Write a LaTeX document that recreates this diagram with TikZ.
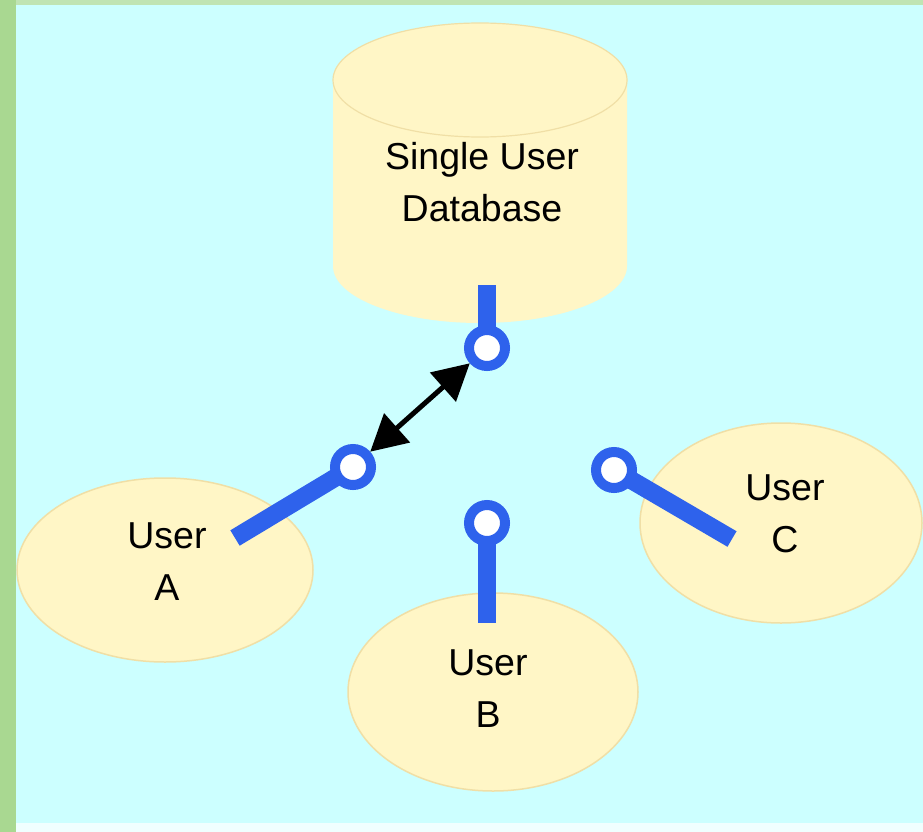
\documentclass[tikz,border=0pt]{standalone}
\usepackage{fontspec}
\setmainfont{Liberation Sans}
\usetikzlibrary{arrows.meta,shapes.geometric}
\definecolor{slidegreen}{HTML}{A9D891}
\definecolor{slidetop}{HTML}{C0E4B3}
\definecolor{panel}{HTML}{CCFFFF}
\definecolor{panelfoot}{HTML}{F0FFFF}
\definecolor{pale}{HTML}{FFF6C6}
\definecolor{paleedge}{HTML}{F0DFA6}
\definecolor{plug}{HTML}{2E62EC}
\pgfdeclarelayer{back}
\pgfdeclarelayer{mid}
\pgfsetlayers{back,mid,main}
\tikzset{
  user/.style={ellipse, fill=pale, draw=paleedge, line width=1.5pt, inner sep=0pt},
  txt/.style={align=center, font=\fontsize{37.5}{52}\selectfont, inner sep=0pt},
  ring/.style={circle, draw=plug, fill=white, line width=10pt, minimum size=36pt, inner sep=0pt},
  bar/.style={draw=plug, line width=18pt, line cap=butt},
  dblarrow/.style={{Triangle[length=36pt,width=38pt]}-{Triangle[length=36pt,width=38pt]}, line width=5pt, black}
}
\begin{document}
\begin{tikzpicture}[x=1pt, y=-1pt]
\useasboundingbox (0,0) rectangle (923,832);
\begin{pgfonlayer}{back}
  % slide background and diagram panel
  \fill[slidegreen] (0,0) rectangle (923,832);
  \fill[slidetop] (16,0) rectangle (923,5);
  \fill[panel] (16,5) rectangle (923,823);
  \fill[panelfoot] (16,823) rectangle (923,832);
  % database cylinder
  \fill[pale] (333,80) -- (333,266) arc[start angle=180, end angle=360, x radius=147pt, y radius=57pt] -- (627,80) -- cycle;
  \draw[paleedge, line width=1.2pt, fill=pale] (480,80) ellipse [x radius=147pt, y radius=57pt];
\end{pgfonlayer}
\node[txt] (db) at (482,182) {Single User\\Database};

% users
\begin{pgfonlayer}{back}
  \node[user, minimum width=296pt, minimum height=184pt] (uA) at (165,570) {};
  \node[user, minimum width=290pt, minimum height=198pt] (uB) at (493,692) {};
  \node[user, minimum width=282pt, minimum height=200pt] (uC) at (781,523) {};
\end{pgfonlayer}
\node[txt] (tA) at (167,562) {User\\A};
\node[txt] (tB) at (488,689) {User\\B};
\node[txt] (tC) at (785,514) {User\\C};

% connection plugs
\node[ring] (ringDB) at (487,348) {};
\node[ring] (ringA) at (353,467) {};
\node[ring] (ringB) at (487,523) {};
\node[ring] (ringC) at (614,470) {};
\coordinate (dbTop) at (487,285);
\coordinate (endA) at (235,538);
\coordinate (endB) at (487,623);
\coordinate (endC) at (732,539);
\begin{pgfonlayer}{mid}
  \draw[bar] (dbTop) -- (ringDB.center);
  \draw[bar] (ringA.center) -- (endA);
  \draw[bar] (ringB.center) -- (endB);
  \draw[bar] (ringC.center) -- (endC);
\end{pgfonlayer}

% link between the database and user A
\draw[dblarrow] (ringDB) -- (ringA);
\end{tikzpicture}
\end{document}
